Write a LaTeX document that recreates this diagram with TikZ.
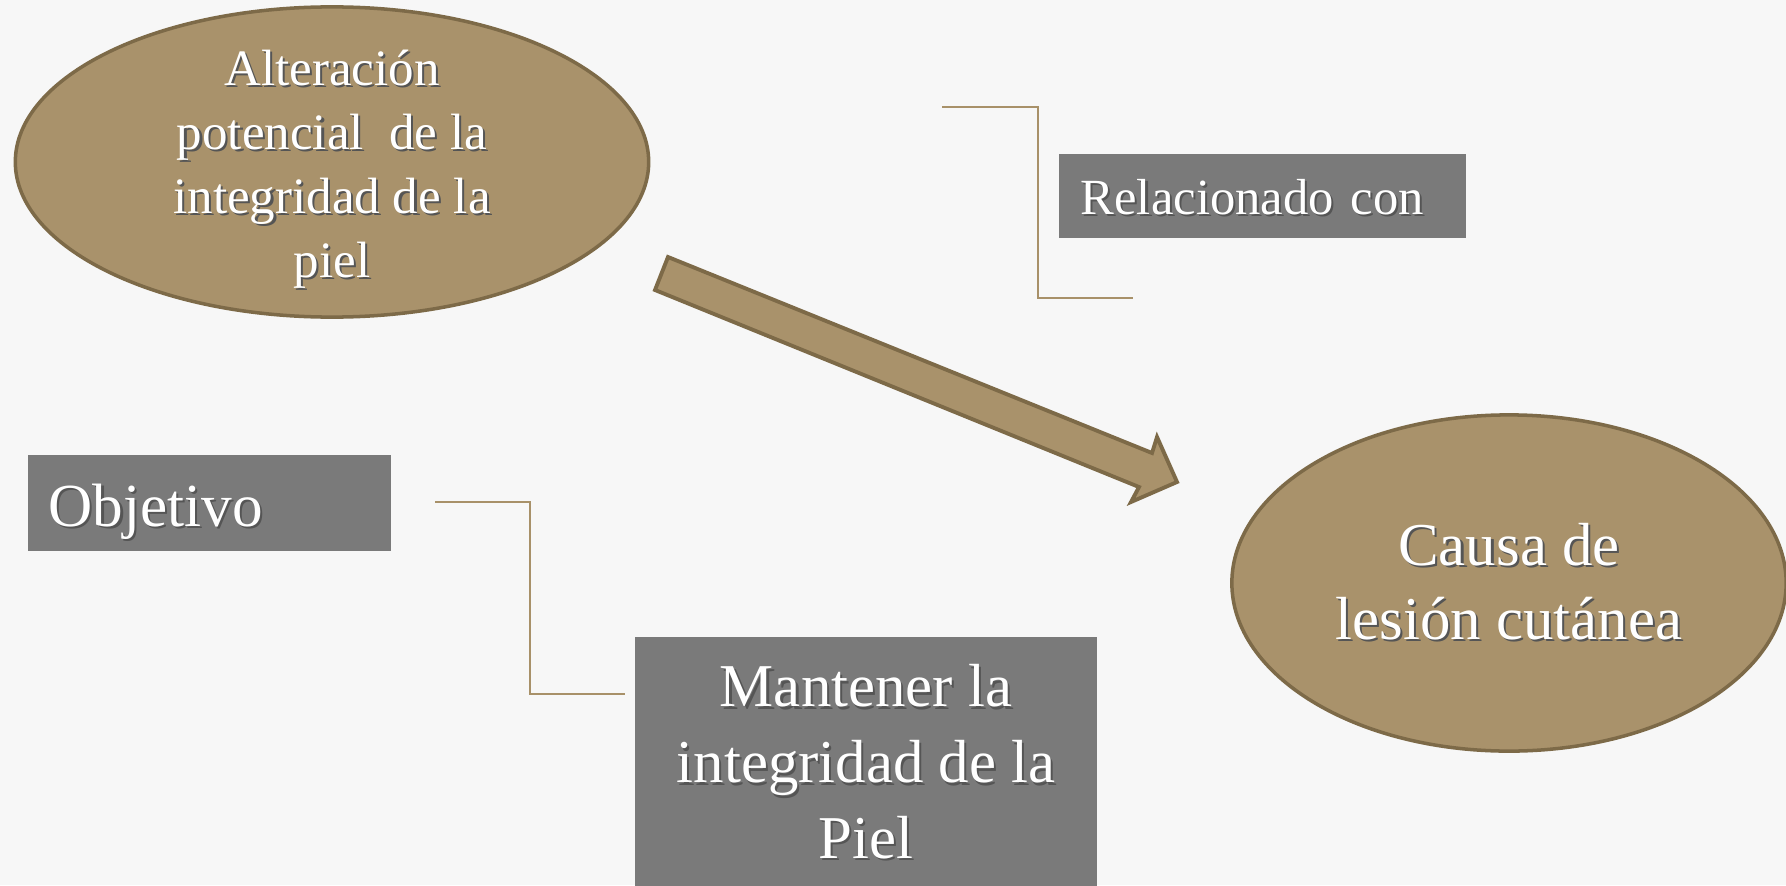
\documentclass[tikz,border=0pt]{standalone}
\usepackage{fontspec}
\setmainfont{Liberation Serif}
\usetikzlibrary{shapes.geometric}
\definecolor{tanfill}{RGB}{169,146,107}
\definecolor{tanline}{RGB}{125,106,72}
\definecolor{bracketc}{RGB}{168,145,105}
\definecolor{boxgray}{RGB}{122,122,122}
\definecolor{paper}{RGB}{247,247,247}
\definecolor{shadowc}{RGB}{85,85,85}
\newcommand{\sh}[1]{\rlap{\hspace{0.6pt}\raisebox{-0.6pt}{\color{shadowc}#1}}#1}
\begin{document}
\begin{tikzpicture}[x=0.01cm,y=-0.01cm,
		oval/.style={ellipse,fill=tanfill,draw=tanline,line width=1pt,text=white,align=center,inner xsep=0pt,inner ysep=-10pt},
		ovaltext/.style={text=white,align=center,inner sep=0pt},
		graybox/.style={rectangle,fill=boxgray,text=white,inner ysep=0pt},
		bracket/.style={draw=bracketc,line width=0.8pt}]
		\fill[paper] (0,0) rectangle (1786,885);
		\useasboundingbox (0,0) rectangle (1786,885);
		% ovals
		\node[oval,minimum width=6.33cm,minimum height=3.10cm] (alter) at (332,162) {};
		\node[ovaltext,font=\fontsize{14.5}{18.2}\selectfont] (altertext) at (332,170)
			{\sh{Alteración}\\\sh{potencial~ de la}\\\sh{integridad de la}\\\sh{piel}};
		\node[oval,minimum width=5.54cm,minimum height=3.36cm,font=\fontsize{17.3}{21}\selectfont] (causa) at (1509,583)
			{\sh{Causa de}\\\sh{lesión cutánea}};
		% block arrow
		\filldraw[fill=tanfill,draw=tanline,line width=1.1pt,line join=miter]
			(668,257) -- (1152,453) -- (1157,437) -- (1177,482) -- (1131,502) -- (1139,487) -- (655,290) -- cycle;
		% gray boxes
		\node[graybox,anchor=north west,text width=3.63cm,align=left,inner xsep=0.22cm,minimum height=0.84cm,text height=0.38cm,text depth=0cm,font=\fontsize{14.4}{17}\selectfont] (rel) at (1058,153)
			{\sh{Relacionado con}};
		\node[graybox,anchor=north west,text width=3.21cm,align=left,inner xsep=0.21cm,minimum height=0.96cm,text height=0.48cm,text depth=0cm,font=\fontsize{17.4}{20}\selectfont] (obj) at (27,454)
			{\sh{Objetivo}};
		\node[graybox,anchor=north,minimum width=4.61cm,inner xsep=0pt,inner ysep=0.28cm,align=center,font=\fontsize{17.3}{21.6}\selectfont] (keep) at (866,636)
			{\sh{Mantener la}\\\sh{integridad de la}\\\sh{Piel}};
		% brackets
		\draw[bracket] (942,107) -- (1038,107) -- (1038,298) -- (1133,298);
		\draw[bracket] (435,502) -- (530,502) -- (530,694) -- (625,694);
\end{tikzpicture}
\end{document}
